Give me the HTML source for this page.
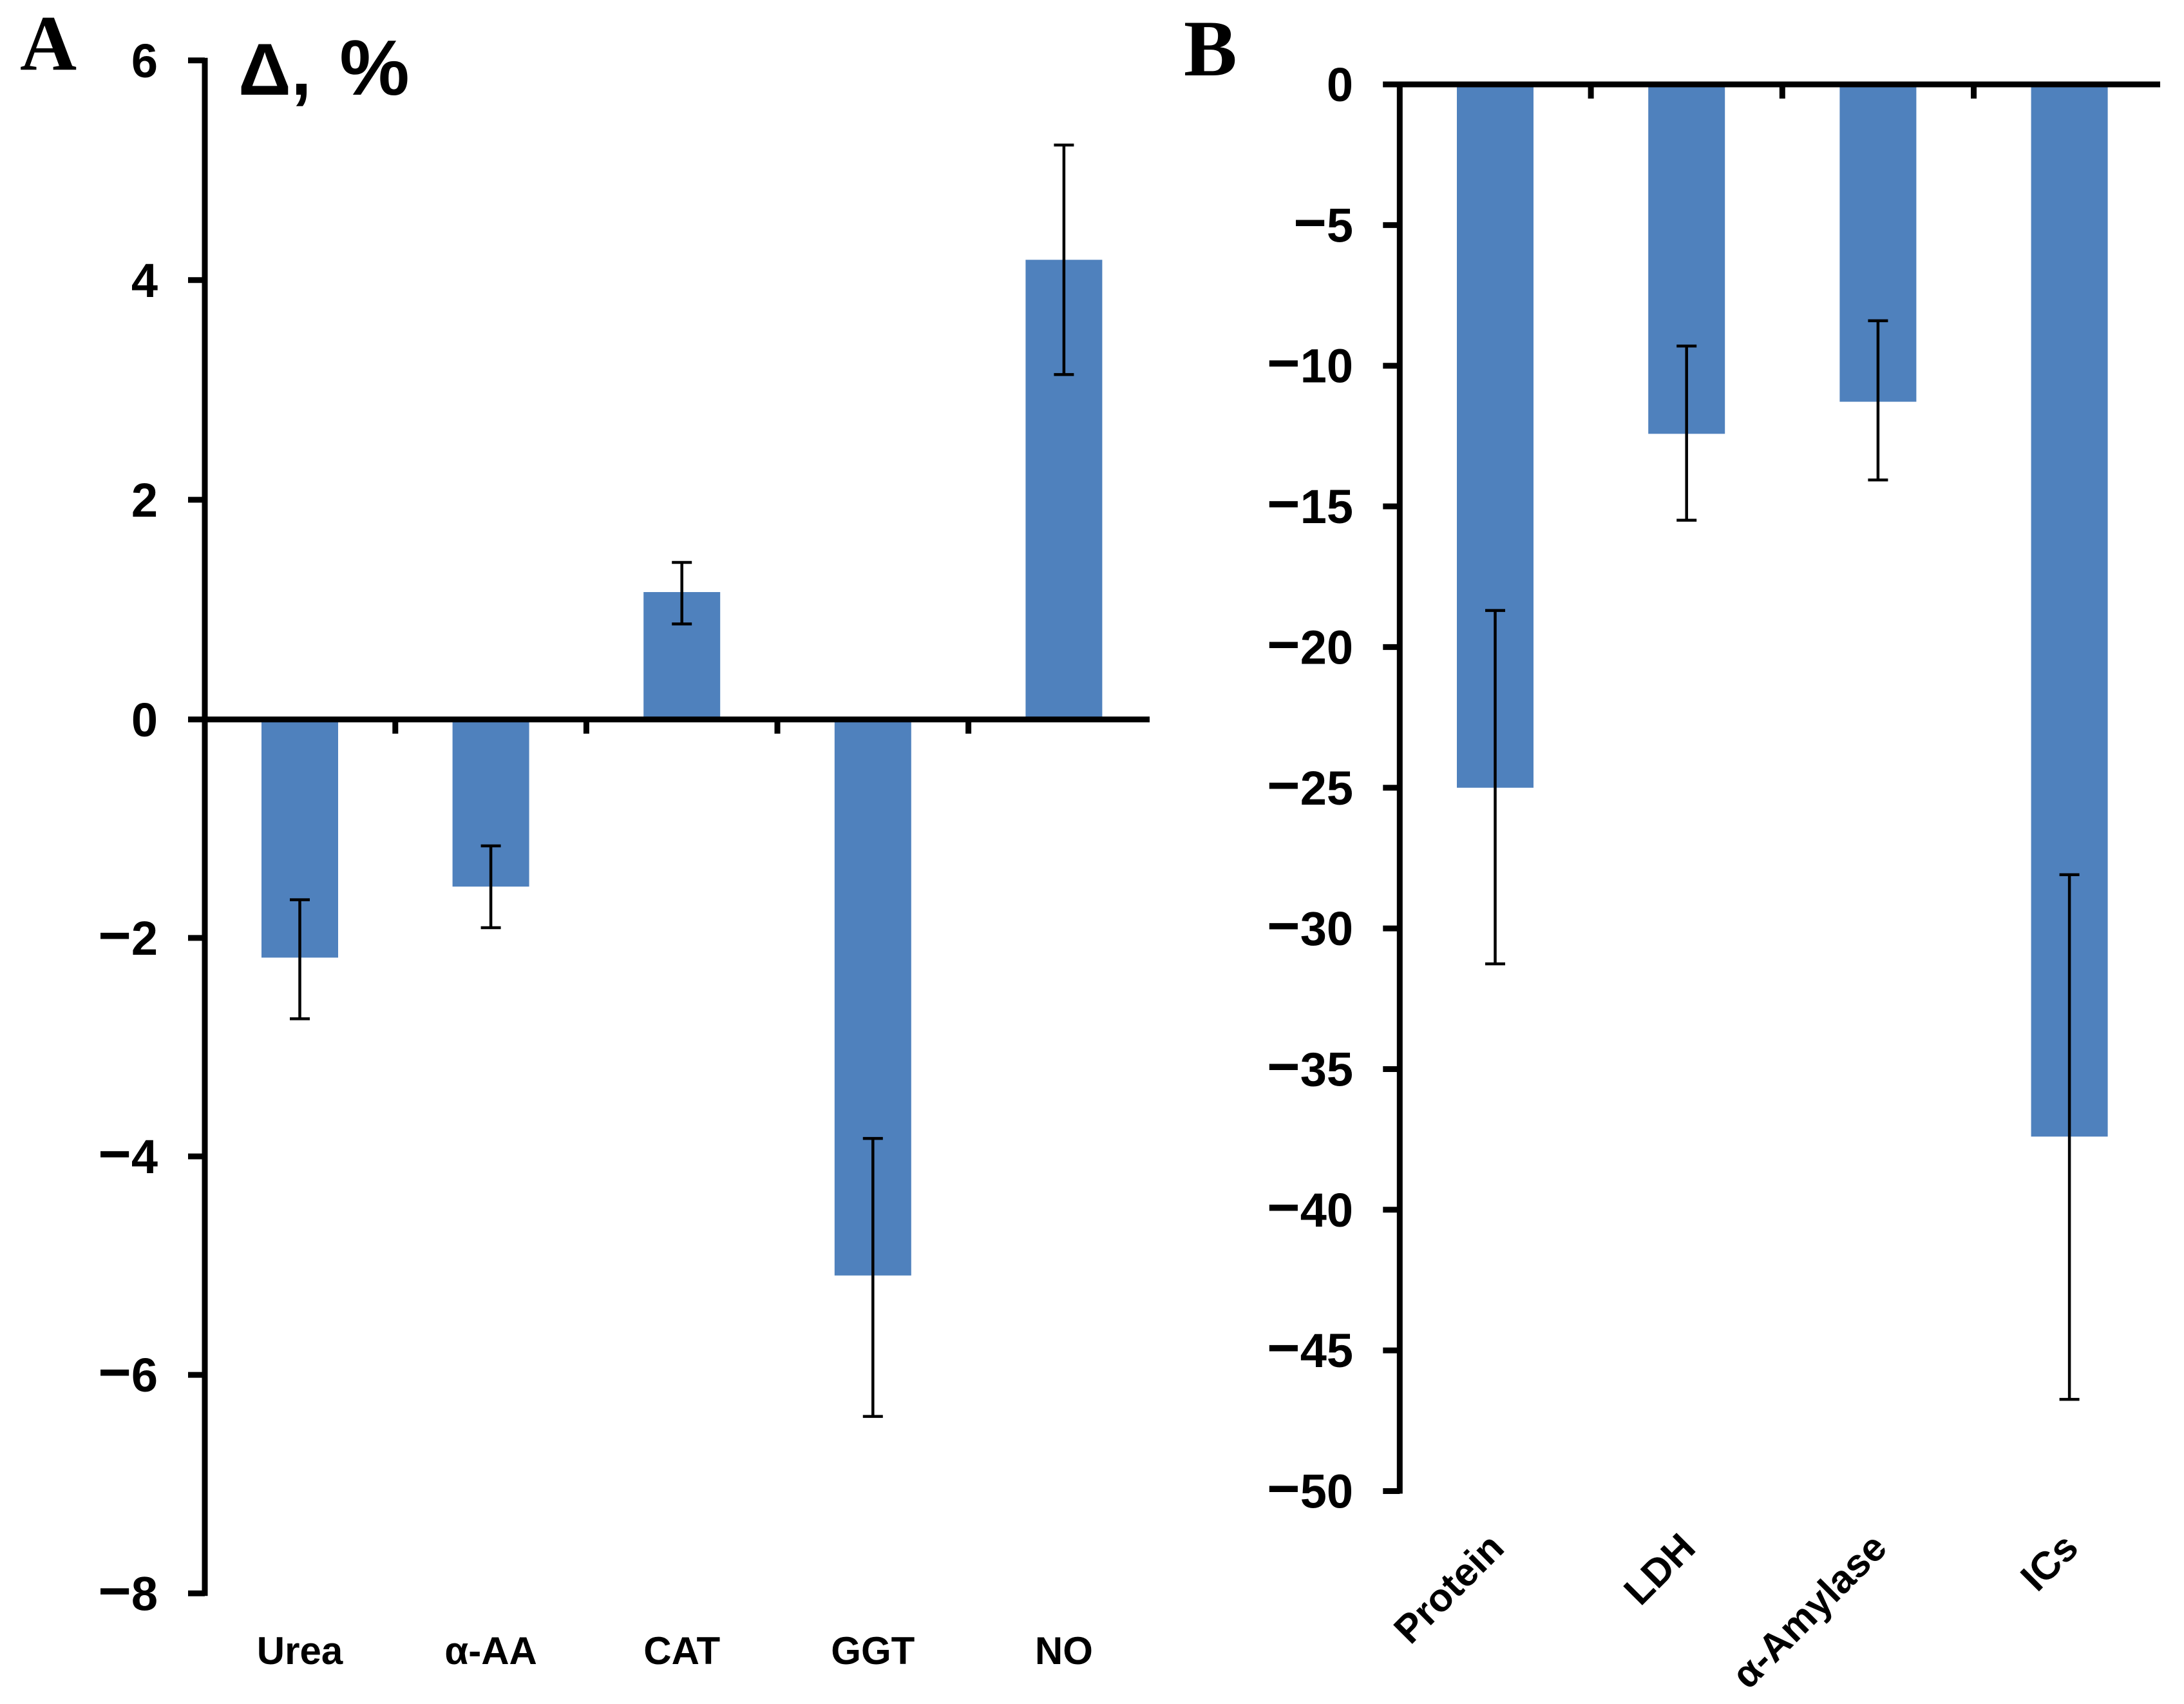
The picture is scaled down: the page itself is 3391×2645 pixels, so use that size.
<!DOCTYPE html>
<html lang="en">
<head>
<meta charset="utf-8">
<title>Delta percent bar charts A and B</title>
<style>
html,body{margin:0;padding:0;background:#fff;width:3391px;height:2645px;overflow:hidden}
svg{display:block}
text{font-family:"Liberation Sans",sans-serif;font-weight:bold;fill:#000}
.serif{font-family:"Liberation Serif",serif}
</style>
</head>
<body>
<svg id="figure" width="3391" height="2645" viewBox="0 0 3391 2645" xmlns="http://www.w3.org/2000/svg">
  <text class="serif" x="31" y="108" font-size="122">A</text>
  <text class="serif" x="1838" y="117" font-size="124">B</text>
  <text x="370" y="147" font-size="114" word-spacing="12">Δ, <tspan font-size="122">%</tspan></text>
  <g id="chart-a"></g>
  <g id="chart-b"></g>
</svg>
<script>
const categoriesA = ['Urea', 'α-AA', 'CAT', 'GGT', 'NO'];
const valuesA = [-2.18, -1.53, 1.16, -5.09, 4.185];
const errorHighA = [-1.65, -1.157, 1.43, -3.835, 5.23];
const errorLowA = [-2.74, -1.906, 0.87, -6.38, 3.14];
const tickValuesA = [6, 4, 2, 0, -2, -4, -6, -8];

const categoriesB = ['Protein', 'LDH', 'α-Amylase', 'ICs'];
const valuesB = [-25.0, -12.42, -11.28, -37.4];
const errorHighB = [-18.7, -9.3, -8.4, -28.09];
const errorLowB = [-31.26, -15.49, -14.06, -46.74];
const tickValuesB = [0, -5, -10, -15, -20, -25, -30, -35, -40, -45, -50];

const SVGNS = 'http://www.w3.org/2000/svg';

function make(parent, tag, attrs) {
  const el = document.createElementNS(SVGNS, tag);
  for (const k in attrs) el.setAttribute(k, attrs[k]);
  parent.appendChild(el);
  return el;
}

function drawChart(root, cfg) {
  const yScale = v => cfg.zeroY - v * (v >= 0 ? cfg.pxPerUnitUp : cfg.pxPerUnitDown);
  const bandCenter = i => cfg.firstCenter + cfg.band * i;
  const n = cfg.categories.length;

  // bars
  cfg.values.forEach((v, i) => {
    const y0 = yScale(0), y1 = yScale(v);
    const bar = make(root, 'rect', {
      x: bandCenter(i) - cfg.barWidth / 2,
      y: Math.min(y0, y1),
      width: cfg.barWidth,
      height: Math.abs(y1 - y0),
      fill: '#4f81bd'
    });
    
    
  });

  // y axis
  const yTop = yScale(Math.max(...cfg.ticks));
  const yBottom = yScale(Math.min(...cfg.ticks));
  const yAxis = make(root, 'line', {x1: cfg.axisX, x2: cfg.axisX, y1: yTop - 4, y2: yBottom + 4, stroke: '#000', 'stroke-width': 9});
  
  

  cfg.ticks.forEach(t => {
    const tick = make(root, 'line', {x1: cfg.axisX - 26, x2: cfg.axisX, y1: yScale(t), y2: yScale(t), stroke: '#000', 'stroke-width': 9});
    
    
    const label = make(root, 'text', {x: cfg.labelX, y: yScale(t) + cfg.labelDy, 'text-anchor': 'end', 'font-size': 74});
    
    
    if (t < 0) {
      const minus = make(label, 'tspan', {'font-size': 88});
      minus.textContent = '\u2212';
      label.appendChild(document.createTextNode(String(Math.abs(t))));
    } else {
      label.textContent = String(t);
    }
  });

  // x axis
  const xAxis = make(root, 'line', {x1: cfg.axisX - cfg.xAxisOverhang, x2: cfg.xAxisEnd, y1: yScale(0), y2: yScale(0), stroke: '#000', 'stroke-width': 9});
  
  

  for (let i = 1; i < n; i++) {
    const tx = bandCenter(i) - cfg.band / 2;
    const tick = make(root, 'line', {x1: tx, x2: tx, y1: yScale(0), y2: yScale(0) + 22, stroke: '#000', 'stroke-width': 9});
    
    
  }

  // error bars
  cfg.values.forEach((v, i) => {
    const cx = bandCenter(i);
    const g = make(root, 'g', {stroke: '#000', 'stroke-width': 4.5});
    
    
    const hi = yScale(cfg.errHigh[i]), lo = yScale(cfg.errLow[i]);
    make(g, 'line', {x1: cx, x2: cx, y1: hi, y2: lo});
    make(g, 'line', {x1: cx - 15.5, x2: cx + 15.5, y1: hi, y2: hi});
    make(g, 'line', {x1: cx - 15.5, x2: cx + 15.5, y1: lo, y2: lo});
  });

  // category labels
  cfg.categories.forEach((c, i) => {
    const cx = bandCenter(i);
    const label = make(root, 'text', {'font-size': cfg.catFont});
    
    
    label.textContent = c;
    if (cfg.rotate) {
      const ax = cx + 17, ay = cfg.catY;
      label.setAttribute('text-anchor', 'end');
      label.setAttribute('x', ax);
      label.setAttribute('y', ay);
      label.setAttribute('transform', 'rotate(-45 ' + ax + ' ' + ay + ')');
    } else {
      label.setAttribute('text-anchor', 'middle');
      label.setAttribute('x', cx);
      label.setAttribute('y', cfg.catY);
    }
  });
}

drawChart(document.getElementById('chart-a'), {
  categories: categoriesA, values: valuesA, errHigh: errorHighA, errLow: errorLowA, ticks: tickValuesA,
  axisX: 318, zeroY: 1116.8, pxPerUnitUp: 170.5, pxPerUnitDown: 169.56, firstCenter: 465.5, band: 296.6,
  barWidth: 119, labelX: 245, labelDy: 26, xAxisOverhang: 0, xAxisEnd: 1785, catFont: 60, catY: 2583, rotate: false
});

drawChart(document.getElementById('chart-b'), {
  categories: categoriesB, values: valuesB, errHigh: errorHighB, errLow: errorLowB, ticks: tickValuesB,
  axisX: 2173.3, zeroY: 131, pxPerUnitUp: 43.67, pxPerUnitDown: 43.67, firstCenter: 2321.5, band: 297.2,
  barWidth: 119, labelX: 2101, labelDy: 26, xAxisOverhang: 26, xAxisEnd: 3354, catFont: 61, catY: 2406, rotate: true
});
</script>
</body>
</html>
